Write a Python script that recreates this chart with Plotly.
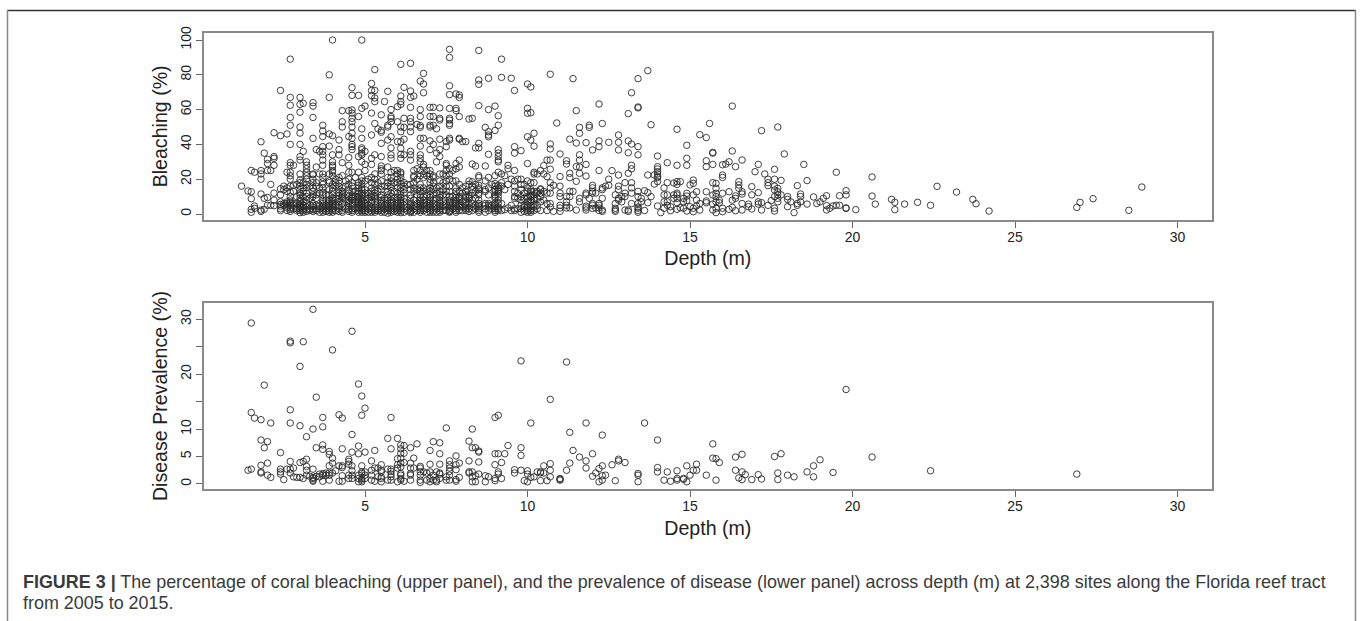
import plotly.graph_objects as go

# ---- Bleaching (%) by depth (m): {depth: [values]} ----
bleach_1_3 = {
 1.2:[16],1.4:[13.2],1.5:[1,2.7,8.8,12.8,25],1.6:[3.3,4.6,24],1.8:[1.5,2.3,11.5,20,23,25,41.5],1.9:[2.7,9,35],
 2.0:[5,9.5,25,29,31.4],2.1:[5,17,25],2.2:[4.8,8,12,28,32,33,46.7],2.4:[2,3,4.5,5.5,7,11,14.5,45,71],
 2.5:[5,6,14,16],2.6:[2,3.5,4.5,6,7,13,15,24,46],2.7:[1.5,2.5,3.5,5,6,7,8,10,12.5,16,20,22,24,28,29.5,40,51,55.5,62.5,67,89],
 2.8:[3,5,6,13,16.5,28],2.9:[2,3,4,6,10,17],
}
bleach_3_5 = {
 3.0:[0.8,2,3,4,5,6,7.5,9,11,12,14,16,18,19.5,23,31,33,40,46.5,50,58.5,63,67],
 3.1:[1,2,3,4,5,7,10,13,15,18,36,63.6],3.2:[1.5,2.5,4,6,8,10,12,15,17,20,22,24,26,28,30],3.3:[2,3,5,9,16],
 3.4:[1.5,2.5,4,5,6,10,11,13,15,18,20,22.5,23,43.5,55.5,62,64],3.5:[2,3,5,9,11,16,18,27,37],3.6:[1,3,4.5,12,15,23,36],
 3.7:[1,2,3,4,5,6,7,8,11,12.5,15,17,18.5,21,23,28,31,34,36,38.7,44.5,47.7,51],3.8:[1.5,3,5,8,11],
 3.9:[1,2,3,4,5,6,7,8,11,14,18,19,23,39,46,67,80],
 4.0:[1,2,3,4,5,6,7,8,9,11,13,15,17,22,24,25,27,28,30,34,45,100],4.1:[2,5,9,16,18,20],
 4.2:[1.5,3,4,5,7,9,10.5,12,14,16,19,21,34,37,42.5],4.3:[1,2,4,6,9,10,11,12,13,15,22,29.5,50,53,59.4],
 4.4:[3,8,16,19],4.5:[1.5,2.5,4,6,7,8,10,12,14,17,20,24,28,32.5,44.5,59.4],
 4.6:[1,2,3,5,6,8,9,10,11,13,16,18,24,37,38.7,40,43.5,46.4,50,53,55,58,59.8,68.2,72.6],4.7:[3,7,10,13,21],
 4.8:[1,2,3,3.5,4,5,6,7,8,9,10,11.5,13,15,16.5,18,24,33,56,68.2],
 4.9:[1,2,3,4,5,6,7,8,9,10.5,12,14,15,17,19,21,30,34,35,37,38,43.5,48.9,60.7,100],
}
bleach_5_7 = {
 5.0:[1,2,3,4,5,6,8,10,12,14,19,25,28.5,36,62],5.1:[1,3,5,9,12,20],
 5.2:[1,2,3,4,6,7,8,10,11,13,15,18,21,28.5,32,45.4,58,68,71,75],5.3:[1,2,3,4,7,9,10,12,14,17,20,23,34,52,64.6,66.7,71,83],
 5.4:[2,3,8,13,18,48.9],5.5:[1,2,3,4,5,6,7,8,9.5,11,14,16,19,23,25,26,27.6,33,40.6,47,48,57],5.6:[1,3,5,9,16,64.6],
 5.7:[0.5,2,3,4,5,6,8,9.5,11,13,16,18,21,27,42.5,50,51,70.5],
 5.8:[1,2,3,4,5,6,7,8,10,12,15,17,19,21,24,32,34,38,44.4,53,55,56,60],5.9:[1.5,3,9,13,18,25],
 6.0:[1,2,3,4,5,6,7,8,9.5,12,15,18,20,23,25,41.6,53,61.7],
 6.1:[0.8,2,3,4,5,6,7,8,9.5,11,13,15,17,19,21,23,24,32,34.3,37.7,41.6,47.3,50,63,64.6,67.8,86],
 6.2:[1,3,5,7,9,12,14,16,18,34,43,49.8,55,72.8],6.3:[2,4,17],
 6.4:[0.8,1.5,2,3,4,5,6,7,9,11,14,17,31,34,36,47.3,50,53,55,61.3,67,70.7,86.6],
 6.5:[1,3,5,8,13,15,18,21,22,25,67.8],6.6:[2,4,6,11,14,20,26,51.5],
 6.7:[1,2,3,4,5,6,7,8,9.5,11,13,15,17,22,25,30,32,34,39,43.5,49.8,50.8,56,60,76.4],
 6.8:[2,3,5,6,8,10,13,15,21,23,27,28.5,43.5,69.7,74.7,80.8],6.9:[1,3,5,7,11,14,22,25],
}
bleach_7_10 = {
 7.0:[1,2,3,4,5,6,7,8,9.5,11,13,15,18,20,23,25,37,42,50,51,56,61.3],
 7.1:[1,2,4,6,8,11,14,16,18,21,22,40,51,56,61.3],7.2:[1,3,5,9,12,15,30,35,49],
 7.3:[1,2,3,4,5,6,7,8,9.5,11,13,16,19,23,33,37,43,54,55,61],7.4:[2,5,7,11,14,18,23],
 7.5:[2,4,6,11,13,16,19,22,25,28,29,38.7,41.6],
 7.6:[1,1.5,2,3,4,5,6,7,8,10,13,16,20,23,26,42.5,43.5,51,52,54,55,60.7,68.6,73.7,90,94.6],7.7:[3,6,10,19,25],
 7.8:[1,2,3,4,5,6,7,8,9.5,11,13,15,19,26,29,59.4,60.7,69],7.9:[2,4,5,6,8,9,10,13,17,27,31,43,43.5,56,67,68.4],
 8.0:[2,4,7,12,15,41.6],8.1:[2,3,4,5,6,7,10,11,13,16,41.6],8.2:[1.5,3,6,9,10,11,17,19,54.6],
 8.3:[2,4,6,8,12,14,16,18.5,28.7,55],8.4:[3,5,9,13,17,27.6,38],
 8.5:[1,2,3,4,5,6,8,11,12,14,15,16.5,21,22,38,40.6,62.3,74.5,77,94],
 8.7:[1,3,5,6,13,14,19,27.6,49.8],8.8:[2,4,5,6,11,15,21,34.3,44.4,45.4,47.3,60,78],8.9:[3,5,17],
 9.0:[1,2,3,4,5,6,9,10,11,13,14,16,17.5,22,48,62],
 9.1:[2,3,4,6,8,10,12,13,14,15,16.5,24,30,31,33,35,37,51,56.5],9.2:[2,6,16,18,23,78.5,89],9.3:[2.5,14,22],
 9.4:[3.5,17,26,28],9.5:[2,5,20,78],9.6:[2,3,9,10,13,16,19,25,35,38.7,71],9.7:[3,9,12,20],
 9.8:[1,3,5,8,10,14,17,20,36.4],9.9:[1.5,4,5,9,12,17],
}
bleach_10_15 = {
 10.0:[1,2,3,4,5,7,9,10,13,15,19,29,44.4,57.9,60.7,74.7],10.1:[1,2,3,5,7,8,10,11,13,14,18,42.5,58.2,73],
 10.2:[2,4,5,8,9,11,13,18,23,24,39,46.4],10.3:[3,5,9,12,13,23],10.4:[2,7,10,12,14,14.5,25],10.5:[8,13,23,27.8],
 10.6:[2,6,12,21.5,31],10.7:[4,6,12,15,18,25.7,31,37.4,40.2,80.3],10.8:[1.5,16.5],10.9:[52.3],
 11.0:[1.5,3.5,5,10,12,16,21.5,34.5],11.2:[3.5,5,7,10,28.7,30.6],11.3:[3.5,10,13,20.9,23.4,43],11.4:[13,77.8],
 11.5:[2.3,18.8,27.2,40.8,59.4],11.6:[7,9,23.4,27,31,34,46.4,49.8],11.8:[2.3,3.5,4.5,11,12,21.8,28.5,41],
 11.9:[9,49.8,51],12.0:[3.2,5,6,12,13,15,16.5,36.8],12.1:[3.5,12],12.2:[2,3.5,5,6,25,38.7,42,63.2],
 12.3:[1.5,2.3,9,14,15,52],12.4:[16],12.5:[16.5,20,41.2],12.6:[24.9],12.7:[1.5,2.3,3.3,6,11],
 12.8:[8,9,14,16,22.4,36.8,41.2,45.4],12.9:[7,10],13.0:[2.3,10,12,18],13.1:[1.5,2.3,23.4,35.2,42,57.7],
 13.2:[6,12,15,18,26,28,40.2,69.7],13.4:[1,2,3.3,4,6,10,13,34,38.7,61,61.5,77.8],13.5:[7,9],13.6:[2,13.4],
 13.7:[6.5,12.3,22.4,82.4],13.8:[10,51.3],13.9:[17.2,22.4],14.0:[4.6,18.6,21,21.5,23,24.3,25.9,27.2,33.3],
 14.1:[0.8],14.2:[3.3,7,11,15],14.3:[5,7,11,18,29.5],14.4:[1.9,4.2],14.5:[9,11,17.8],
 14.6:[2.7,6.5,9,11,12,17,18.6,28,48.7],14.7:[3.6,18.6],14.8:[3.3,7,9],14.9:[1.7,7.7,10.3,11.9,28,32,39.5],
}
bleach_15_30 = {
 15.0:[4.2,16.7],15.1:[1.3,3.3,11,17.6,19.5],15.2:[4.6,8,12.8],15.3:[2.3,6,45.6],15.5:[6.5,7.5,12.8,27.2,30.6,43.9],
 15.6:[52],15.7:[2.3,5.7,10.9,18,28.5,35,35.4],15.8:[0.8,3.3,7,10,11.9,14.8,17.6],15.9:[6.5,8],
 16.0:[1.3,3.3,11.9,21,22.4,28.3],16.1:[28.7],16.2:[2.7,12.8,30],16.3:[3.8,8,36.2,62],
 16.4:[1.9,9,10.4,27.2],16.5:[14.8,16.7,18.6],16.6:[2.3,6,11.5,12.8,31],16.8:[4.2,5.7],16.9:[2.9,11,15.7],
 17.0:[24.3],17.1:[5.7,7,12.3,28.5],17.2:[2.3,6.5,47.9],17.3:[23],17.4:[5,16.3,18,20],17.5:[7.7],
 17.6:[1.7,3.3,10,13.8,16,20,25.7],17.7:[7,9,11,12.8,14.8,50],17.8:[11,19.3],17.9:[34.5],
 18.0:[4.2,8.4,10],18.1:[7],18.2:[0.8],18.3:[5,6,16.3],18.4:[7,10,11.5],18.5:[28.5],18.6:[5.7,19.2],18.8:[9.8],
 18.9:[6],19.0:[7],19.1:[9],19.2:[2.3,4.8,10.5],19.3:[3.3],19.4:[4.6],19.5:[5,24],19.6:[5,10.5],
 19.8:[3.2,3.5,11,13.4],20.1:[2.5],20.6:[10.3,21.3],20.7:[5.7],21.2:[8.4],21.3:[2.5,6.7],21.6:[5.7],22.0:[6.7],
 22.4:[5],22.6:[15.9],23.2:[12.6],23.7:[8.4],23.8:[5.9],24.2:[1.7],26.9:[3.8],27.0:[6.7],27.4:[8.8],28.5:[2.1],28.9:[15.5],
}

# ---- Disease prevalence (%) by depth (m) ----
disease_1_5 = {
 1.4:[2.5],1.5:[2.7,13,29.3],1.6:[12],1.8:[2,2.2,3.4,8,11.7],1.9:[6.6,18],2.0:[1.6,3.8,7.7],2.1:[1.2,11.1],
 2.4:[1.8,2.2,2.7,5.7],2.5:[0.8],2.6:[2.7],2.7:[2,2.7,4.1,11.1,13.5,25.7,26],2.8:[1.3,2.9],2.9:[1.2],
 3.0:[1.2,3.9,10.6,21.4],3.1:[1,4.1,25.9],3.2:[1.6,2.5,3.2,4.5,8.6],3.3:[1.4],
 3.4:[0.5,0.7,1,1.2,2.7,10,31.8],3.5:[1.4,6.6,15.8],3.6:[1.3,1.8],3.7:[0.5,1.6,1.9,6.3,7.1,10.4,12.1],3.8:[1.6,2],
 3.9:[0.7,1.6,2,3.3,5.4,5.9],4.0:[2,3.8,4.7,24.4],4.1:[2.4],4.2:[0.5,3.3,12.6],4.3:[0.5,1.5,3,3.3,6.4,12],
 4.5:[1,1.6,3.6,4.1,4.5],4.6:[1,1.6,2.4,3.3,5.8,9,27.8],4.8:[0.4,1,1.6,5.5,6.9,18.2],
 4.9:[0.4,0.7,1,1.9,2.2,3.3,12.5,16],
}
disease_5_10 = {
 5.0:[1,1.6,2.2,5.8,13.8],5.2:[0.7,1.6,2.5,4.2],5.3:[0.5,2.9,6.1],5.4:[1.3,2.9],5.5:[0.4,1,1.3,2.2,2.5,3.5],
 5.7:[0.7,2.7,8.3],5.8:[0.7,1.3,1.8,2.3,2.7,6.4,12.1],6.0:[0.4,2.9,3.5,4.6,8.3],
 6.1:[0.7,1,1.6,1.9,3.1,3.8,4.7,5.6,6.4,7.1],6.2:[0.5,3.9,5.6,7],6.4:[0.7,1.6,1.9,2.9,3.8,6.6],6.5:[2.9,4.7],
 6.6:[7.3],6.7:[0.3,0.7,1.6,2.2,2.9,3.2],6.8:[2.2],6.9:[0.7,2],7.0:[0.4,1,2.2,3.6,6.1],7.1:[0.7,1.6,7.7],
 7.2:[0.4,0.7,2.2],7.3:[1,1.8,2,3.6,5.5,7.5],7.5:[0.7,1.3,10.2],7.6:[0.7,1.6,2.3,2.9,3.5,4.2],
 7.8:[0.5,0.8,2.6,3.5,5.1],7.9:[1.2,3.8],8.2:[2,2.2,4.2,7.8],8.3:[0.4,1.3,2.2,6.6,10],8.4:[0.4,1.5,6.6],
 8.5:[1.8,4,5.8,6],8.7:[0.4,1.5],8.8:[1.3],9.0:[0.6,1,3.5,5.5,12.1],9.1:[1.8,2.2,5.5,12.5],9.2:[1,3.9],9.3:[5.5],
 9.4:[7],9.6:[2,2.6],9.8:[2.5,5.2,6.6,22.4],9.9:[0.6],
}
disease_10_30 = {
 10.0:[0.4,1.8,2.4],10.1:[1.2,11.1],10.2:[1.3],10.3:[2.2],10.4:[0.6,2,2.2],10.5:[2,3.3],10.6:[0.6],
 10.7:[1.3,2.5,3.7,15.4],11.0:[0.7,0.85,1],11.2:[2.5,22.2],11.3:[3.8,9.4],11.4:[6.1],11.6:[4.9],
 11.8:[2.9,4.2,11.1],12.0:[1.4,5.5],12.1:[2],12.2:[0.4,2.8],12.3:[0.7,1.5,3.3,8.9],12.4:[1.6],12.6:[3.5],12.7:[0.6],
 12.8:[4.2,4.5],13.0:[3.9],13.4:[0.4,1.6,1.9],13.6:[11.1],14.0:[2.2,3,8],14.2:[0.7],14.3:[2.2],14.4:[0.5],
 14.6:[0.7,1,2.4],14.8:[0.85,1],14.9:[0.4,3.3],15.0:[1.6],15.1:[2.5],15.2:[2.5,3.6],15.5:[1.6],
 15.7:[4.7,7.3],15.8:[0.7,4.6],15.9:[3.9],16.4:[2.5,4.9],16.5:[1.1],16.6:[0.8,2.2,5.4],16.7:[1.7],16.9:[0.8],
 17.1:[1.7],17.2:[0.9],17.6:[5],17.7:[0.8,2],17.8:[5.5],18.0:[1.6],18.2:[1.3],18.6:[2.2],18.8:[1.3,3.3],19.0:[4.4],
 19.4:[2.1],19.8:[17.2],20.6:[4.9],22.4:[2.4],26.9:[1.8],
}

depth_ticks = [5, 10, 15, 20, 25, 30]
bleach_ticks = [0, 20, 40, 60, 80, 100]
disease_ticks = [0, 5, 10, 15, 20, 25, 30]
disease_tick_text = ["0", "5", "10", "", "20", "", "30"]
caption_lines = ["<b>FIGURE 3 |</b> The percentage of coral bleaching (upper panel), and the prevalence of disease "
                 "(lower panel) across depth (m) at 2,398 sites along the Florida reef tract",
                 "from 2005 to 2015."]


def flatten(*tables):
    xs, ys = [], []
    for t in tables:
        for d, vals in t.items():
            xs += [d] * len(vals)
            ys += vals
    return xs, ys


W, H = 1360, 621
bx, by = flatten(bleach_1_3, bleach_3_5, bleach_5_7, bleach_7_10, bleach_10_15, bleach_15_30)
dx, dy = flatten(disease_1_5, disease_5_10, disease_10_30)

marker = dict(symbol="circle-open", size=6.5, color="#2b2b2b", line=dict(width=0.9, color="#2b2b2b"))
fig = go.Figure()
fig.add_trace(go.Scatter(x=bx, y=by, mode="markers", marker=marker, xaxis="x", yaxis="y", name="Bleaching"))
fig.add_trace(go.Scatter(x=dx, y=dy, mode="markers", marker=marker, xaxis="x2", yaxis="y2", name="Disease"))

FONT = "Liberation Sans, Arial, sans-serif"
tick_font = dict(family=FONT, size=14, color="#222")
title_font = dict(family=FONT, size=19.6, color="#222")
common = dict(showline=True, mirror=True, linecolor="#8a8a8a", linewidth=1.6, ticks="outside", ticklen=6,
              tickcolor="#666", tickwidth=1.2, showgrid=False, zeroline=False, tickfont=tick_font, automargin=False)
xr = [0.046, 31.05]
xcommon = dict(common, range=xr, tickvals=depth_ticks, domain=[204 / W, 1211.7 / W], ticklabelstandoff=-3)
ycommon = dict(common, tickangle=-90)

caption_ann = [dict(text=t, xref="paper", yref="paper", x=22 / W, y=1 - yy / H, xanchor="left", xshift=-1,
                    yanchor="middle", align="left", showarrow=False,
                    font=dict(family=FONT, size=17.93, color="#3a3a3a"))
               for t, yy in zip(caption_lines, [582, 603])]

fig.update_layout(
    width=W, height=H, autosize=False, margin=dict(l=0, r=0, t=0, b=0),
    paper_bgcolor="white", plot_bgcolor="white", showlegend=False,
    xaxis=dict(xcommon, anchor="y", title=dict(text="Depth (m)", font=title_font, standoff=8)),
    yaxis=dict(ycommon, anchor="x", range=[-3.45, 104.2], tickvals=bleach_ticks,
               domain=[1 - 220 / H, 1 - 32.7 / H],
               title=dict(text="Bleaching (%)", font=title_font, standoff=5)),
    xaxis2=dict(xcommon, anchor="y2", title=dict(text="Depth (m)", font=title_font, standoff=8)),
    yaxis2=dict(ycommon, anchor="x2", range=[-0.97, 33.0], tickvals=disease_ticks, ticktext=disease_tick_text,
                domain=[1 - 489.3 / H, 1 - 302.7 / H],
                title=dict(text="Disease Prevalence (%)", font=title_font, standoff=5)),
    annotations=caption_ann,
    shapes=[
        dict(type="line", xref="paper", yref="paper", x0=7 / W, x1=1355.5 / W, y0=1 - 10.5 / H, y1=1 - 10.5 / H,
             line=dict(color="#333", width=1.5)),
        dict(type="line", xref="paper", yref="paper", x0=7.5 / W, x1=7.5 / W, y0=1 - 10 / H, y1=0,
             line=dict(color="#888", width=1.5)),
        dict(type="line", xref="paper", yref="paper", x0=1355.5 / W, x1=1355.5 / W, y0=1 - 10 / H, y1=0,
             line=dict(color="#888", width=1.5)),
    ],
)

fig.write_html("out.html", config={"displayModeBar": False},
               post_script="document.body.style.margin='0';document.body.style.overflow='hidden';")
